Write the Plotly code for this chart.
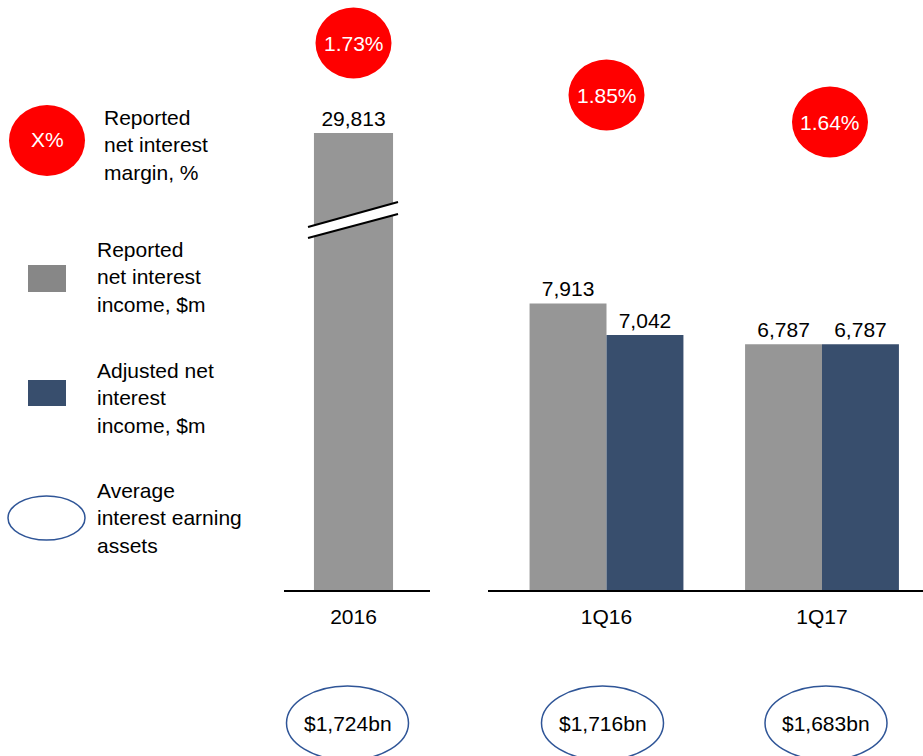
import plotly.graph_objects as go

# ---------------- data ----------------
annual_cat = ["2016"]
quarter_cat = ["1Q16", "1Q17"]
reported_nii_annual = [29813]          # $m
reported_nii_quarter = [7913, 6787]    # $m
adjusted_nii_quarter = [7042, 6787]    # $m
nim_annual = [1.73]                    # %
nim_quarter = [1.85, 1.64]             # %
aiea_annual = [1724]                   # $bn
aiea_quarter = [1716, 1683]            # $bn

# ---------------- style ----------------
W, H = 923, 756
GRAY = "#969696"
GRAY_LEG = "#878787"
NAVY = "#384E6D"
RED = "#FF0000"
OUTLINE = "#2F5597"
FONT = "Liberation Sans, Arial, sans-serif"
FS = 21
BREAK_CAP = 12620      # displayed height of the broken 2016 bar
BAR_W_Q = 0.357
BAR_W_A = 0.367


def fmt(v):
    return f"{v:,}"


def px(x):
    return x / W


def py(y):
    return 1 - y / H


fig = go.Figure()

# bars
fig.add_trace(go.Bar(
    x=annual_cat, y=[min(v, BREAK_CAP) for v in reported_nii_annual],
    text=[fmt(v) for v in reported_nii_annual], textposition="outside",
    textfont=dict(size=FS, color="black"), cliponaxis=False,
    marker=dict(color=GRAY, line=dict(width=0)), width=BAR_W_A,
    xaxis="x", yaxis="y", hoverinfo="skip"))
fig.add_trace(go.Bar(
    x=quarter_cat, y=reported_nii_quarter,
    text=[fmt(v) for v in reported_nii_quarter], textposition="outside",
    textfont=dict(size=FS, color="black"), cliponaxis=False,
    marker=dict(color=GRAY, line=dict(width=0)), width=BAR_W_Q, offset=-BAR_W_Q,
    xaxis="x2", yaxis="y", hoverinfo="skip"))
fig.add_trace(go.Bar(
    x=quarter_cat, y=adjusted_nii_quarter,
    text=[fmt(v) for v in adjusted_nii_quarter], textposition="outside",
    textfont=dict(size=FS, color="black"), cliponaxis=False,
    marker=dict(color=NAVY, line=dict(width=0)), width=BAR_W_Q, offset=0,
    xaxis="x2", yaxis="y", hoverinfo="skip"))

# net interest margin points (invisible markers; ellipse + label anchored on them)
fig.add_trace(go.Scatter(
    x=annual_cat, y=nim_annual, mode="markers", marker=dict(opacity=0),
    xaxis="x", yaxis="y4", hoverinfo="skip"))
fig.add_trace(go.Scatter(
    x=quarter_cat, y=nim_quarter, mode="markers", marker=dict(opacity=0),
    xaxis="x2", yaxis="y3", hoverinfo="skip"))

shapes = []
annotations = []

# red margin ellipses with labels
nim_items = [("x", "y4", i, v) for i, v in enumerate(nim_annual)] + \
            [("x2", "y3", i, v) for i, v in enumerate(nim_quarter)]
nim_shift = [0, 0, 8]
for (xr, yr, i, v), sh in zip(nim_items, nim_shift):
    shapes.append(dict(type="circle", xref=xr, yref=yr, xsizemode="pixel",
                       ysizemode="pixel", xanchor=i, yanchor=v,
                       x0=-38 + sh, x1=38 + sh, y0=-35.5, y1=35.5,
                       fillcolor=RED, line=dict(width=0), layer="below"))
    annotations.append(dict(xref=xr, yref=yr, x=i, y=v, xshift=sh,
                            xanchor="center", yanchor="middle",
                            text=f"{v:.2f}%", showarrow=False,
                            font=dict(size=FS, color="white")))

# axis break on 2016 bar
bx0, bx1 = -0.211, 0.2065
shapes.append(dict(type="path", xref="x", yref="y",
                   path=f"M {bx0},{10022} L {bx1},{10712} L {bx1},{10381} L {bx0},{9718} Z",
                   fillcolor="white", line=dict(width=0), layer="above"))
shapes.append(dict(type="line", xref="x", yref="y", x0=bx0, x1=bx1, y0=10022, y1=10712,
                   line=dict(color="black", width=2), layer="above"))
shapes.append(dict(type="line", xref="x", yref="y", x0=bx0, x1=bx1, y0=9718, y1=10381,
                   line=dict(color="black", width=2), layer="above"))

# average interest earning assets ellipses
aiea_items = [("x", i, v) for i, v in enumerate(aiea_annual)] + \
             [("x2", i, v) for i, v in enumerate(aiea_quarter)]
aiea_shift = [-6, -4, 4]
for (xr, i, v), sh in zip(aiea_items, aiea_shift):
    shapes.append(dict(type="circle", xref=xr, yref="paper", xsizemode="pixel",
                       ysizemode="pixel", xanchor=i, yanchor=py(723),
                       x0=-61 + sh, x1=61 + sh, y0=-37, y1=37,
                       fillcolor="rgba(0,0,0,0)", line=dict(color=OUTLINE, width=1.5)))
    annotations.append(dict(xref=xr, yref="paper", x=i, y=py(723), xshift=sh,
                            xanchor="center", yanchor="middle",
                            text=f"${v:,}bn", showarrow=False,
                            font=dict(size=FS, color="black")))

# ---------------- legend (drawn manually) ----------------
shapes.append(dict(type="circle", xref="paper", yref="paper",
                   x0=px(9), x1=px(85), y0=py(176), y1=py(105),
                   fillcolor=RED, line=dict(width=0)))
annotations.append(dict(xref="paper", yref="paper", x=px(47), y=py(140), text="X%",
                        xanchor="center", yanchor="middle",
                        showarrow=False, font=dict(size=FS, color="white")))
shapes.append(dict(type="rect", xref="paper", yref="paper",
                   x0=px(28), x1=px(66), y0=py(292), y1=py(265),
                   fillcolor=GRAY_LEG, line=dict(width=0)))
shapes.append(dict(type="rect", xref="paper", yref="paper",
                   x0=px(28), x1=px(66), y0=py(406), y1=py(380),
                   fillcolor=NAVY, line=dict(width=0)))
shapes.append(dict(type="circle", xref="paper", yref="paper",
                   x0=px(8), x1=px(85), y0=py(540), y1=py(496),
                   fillcolor="rgba(0,0,0,0)", line=dict(color=OUTLINE, width=1.5)))

legend_texts = [
    (102, 145, "Reported<br>net interest<br>margin, %"),
    (95, 277, "Reported<br>net interest<br>income, $m"),
    (95, 398, "Adjusted net<br>interest<br>income, $m"),
    (95, 518, "Average<br>interest earning<br>assets"),
]
for x, y, t in legend_texts:
    annotations.append(dict(xref="paper", yref="paper", x=px(x), y=py(y), text=t,
                            xanchor="left", yanchor="middle", align="left",
                            showarrow=False, font=dict(size=FS, color="black")))

axis_common = dict(type="category", showline=True, linecolor="black", linewidth=2,
                   ticks="", showgrid=False, zeroline=False, fixedrange=True,
                   tickfont=dict(size=FS, color="black"), anchor="y",
                   ticklabelstandoff=7)
y_dom = [(H - 590) / H, 1]

fig.update_layout(
    width=W, height=H, autosize=False,
    margin=dict(l=0, r=0, t=0, b=0, pad=0),
    paper_bgcolor="white", plot_bgcolor="white",
    font=dict(family=FONT, size=FS, color="black"),
    showlegend=False, barmode="overlay",
    xaxis=dict(domain=[284 / W, 430 / W], range=[-0.3225, 0.355], **axis_common),
    xaxis2=dict(domain=[488 / W, 1], range=[-0.5499, 1.4687], **axis_common),
    yaxis=dict(domain=y_dom, range=[0, 16289], visible=False, anchor="x", fixedrange=True),
    yaxis3=dict(overlaying="y", range=[-2.0, 2.589], visible=False, anchor="x2", fixedrange=True),
    yaxis4=dict(overlaying="y", range=[0, 1.866], visible=False, anchor="x", fixedrange=True),
    shapes=shapes, annotations=annotations,
)

fig.write_html("out.html", config={"displayModeBar": False},
               post_script="document.body.style.margin='0';document.body.style.overflow='hidden';")
